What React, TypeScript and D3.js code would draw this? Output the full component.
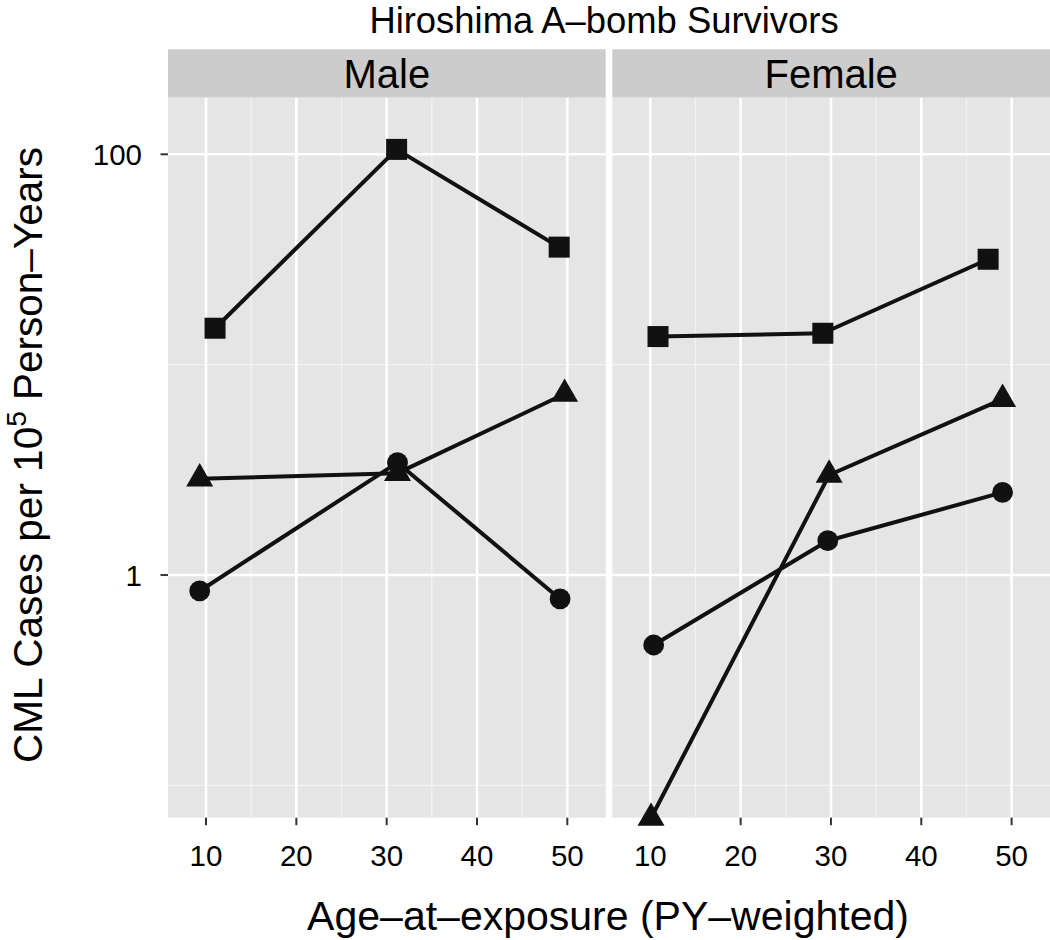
import React from "react";
import * as d3 from "d3";

const title = "Hiroshima A\u2013bomb Survivors";
const panels = ["Male", "Female"];
const xTicks = [10, 20, 30, 40, 50];
const xMinor = [15, 25, 35, 45];
const yTicks = [1, 100];
const yTickLabels = ["1", "100"];
const yMinor = [0.1, 10];

// Male series
const maleSquareAge = [11.0, 31.1, 49.1];
const maleSquareRate = [14.9, 105.5, 36.2];
const maleTriangleAge = [9.3, 31.2, 49.7];
const maleTriangleRate = [2.87, 3.05, 7.25];
const maleCircleAge = [9.3, 31.2, 49.2];
const maleCircleRate = [0.84, 3.42, 0.77];

// Female series
const femaleSquareAge = [10.85, 29.1, 47.4];
const femaleSquareRate = [13.6, 14.1, 31.7];
const femaleTriangleAge = [10.08, 29.8, 49.0];
const femaleTriangleRate = [0.07, 2.99, 6.86];
const femaleCircleAge = [10.37, 29.65, 49.0];
const femaleCircleRate = [0.465, 1.456, 2.47];

type Series = { shape: "square" | "triangle" | "circle"; ages: number[]; rates: number[] };
const panelSeries: Series[][] = [
  [
    { shape: "square", ages: maleSquareAge, rates: maleSquareRate },
    { shape: "triangle", ages: maleTriangleAge, rates: maleTriangleRate },
    { shape: "circle", ages: maleCircleAge, rates: maleCircleRate },
  ],
  [
    { shape: "square", ages: femaleSquareAge, rates: femaleSquareRate },
    { shape: "triangle", ages: femaleTriangleAge, rates: femaleTriangleRate },
    { shape: "circle", ages: femaleCircleAge, rates: femaleCircleRate },
  ],
];

const W = 1050;
const H = 940;
const panelTop = 97.7;
const panelBottom = 817.7;
const stripTop = 49.3;
const panelW = 437.7;
const panelLefts = [168, 612.3];
const xDomain: [number, number] = [5.79, 54.25];
const yDomain: [number, number] = [Math.pow(10, -1.1535), Math.pow(10, 2.269)];
const font = "'Liberation Sans', Arial, Helvetica, sans-serif";
const ink = "#111";

function Marker({ shape, x, y }: { shape: string; x: number; y: number }) {
  if (shape === "square") {
    const s = 21;
    return <rect x={x - s / 2} y={y - s / 2} width={s} height={s} fill={ink} />;
  }
  if (shape === "circle") {
    return <circle cx={x} cy={y} r={10.4} fill={ink} />;
  }
  const r = 15.6;
  const xc = (r * Math.sqrt(3)) / 2;
  const pts = `${x},${y - r} ${x + xc},${y + r / 2} ${x - xc},${y + r / 2}`;
  return <polygon points={pts} fill={ink} />;
}

export default function App() {
  const y = d3.scaleLog().domain(yDomain).range([panelBottom, panelTop]);
  const line = d3.line<[number, number]>();

  return (
    <svg
      width={W}
      height={H}
      style={{ position: "absolute", left: 0, top: 0, background: "#fff" }}
      fontFamily={font}
    >
      <text x={604} y={33} fontSize={36.4} textAnchor="middle" fill="#000">
        {title}
      </text>

      {panels.map((name, pi) => {
        const left = panelLefts[pi];
        const x = d3.scaleLinear().domain(xDomain).range([left, left + panelW]);
        return (
          <g key={name}>
            <rect x={left} y={stripTop} width={panelW} height={panelTop - stripTop} fill="#cccccc" />
            <text x={left + panelW / 2} y={87.7} fontSize={40} textAnchor="middle" fill="#000">
              {name}
            </text>
            <rect x={left} y={panelTop} width={panelW} height={panelBottom - panelTop} fill="#e5e5e5" />
            {xMinor.map((v) => (
              <line key={"xm" + v} x1={x(v)} x2={x(v)} y1={panelTop} y2={panelBottom} stroke="#f2f2f2" strokeWidth={1.3} />
            ))}
            {yMinor.map((v) => (
              <line key={"ym" + v} x1={left} x2={left + panelW} y1={y(v)} y2={y(v)} stroke="#f2f2f2" strokeWidth={1.3} />
            ))}
            {xTicks.map((v) => (
              <line key={"xM" + v} x1={x(v)} x2={x(v)} y1={panelTop} y2={panelBottom} stroke="#ffffff" strokeWidth={2.6} />
            ))}
            {yTicks.map((v) => (
              <line key={"yM" + v} x1={left} x2={left + panelW} y1={y(v)} y2={y(v)} stroke="#ffffff" strokeWidth={2.6} />
            ))}
            {xTicks.map((v) => (
              <g key={"xt" + v}>
                <line x1={x(v)} x2={x(v)} y1={panelBottom} y2={panelBottom + 7.5} stroke="#333" strokeWidth={2} />
                <text x={x(v)} y={866} fontSize={29.5} textAnchor="middle" fill="#000">
                  {v}
                </text>
              </g>
            ))}
            {panelSeries[pi].map((s, si) => {
              const pts = s.ages.map((a, i) => [x(a), y(s.rates[i])] as [number, number]);
              return (
                <path key={"l" + si} d={line(pts) || ""} fill="none" stroke={ink} strokeWidth={4} strokeLinejoin="round" />
              );
            })}
            {panelSeries[pi].map((s, si) =>
              s.ages.map((a, i) => <Marker key={"m" + si + "_" + i} shape={s.shape} x={x(a)} y={y(s.rates[i])} />)
            )}
          </g>
        );
      })}

      {yTicks.map((v, i) => (
        <g key={"yt" + v}>
          <line x1={160.5} x2={168} y1={y(v)} y2={y(v)} stroke="#333" strokeWidth={2} />
          <text x={142} y={y(v)} dy="0.36em" fontSize={29.5} textAnchor="end" fill="#000">
            {yTickLabels[i]}
          </text>
        </g>
      ))}

      <text x={608} y={930} fontSize={41} textAnchor="middle" fill="#000">
        Age{"\u2013"}at{"\u2013"}exposure (PY{"\u2013"}weighted)
      </text>

      <text transform={`translate(42, 455) rotate(-90)`} fontSize={40.5} textAnchor="middle" fill="#000">
        CML Cases per 10
        <tspan fontSize={28} dy={-16}>5</tspan>
        <tspan dy={16}> Person{"\u2013"}Years</tspan>
      </text>
    </svg>
  );
}
